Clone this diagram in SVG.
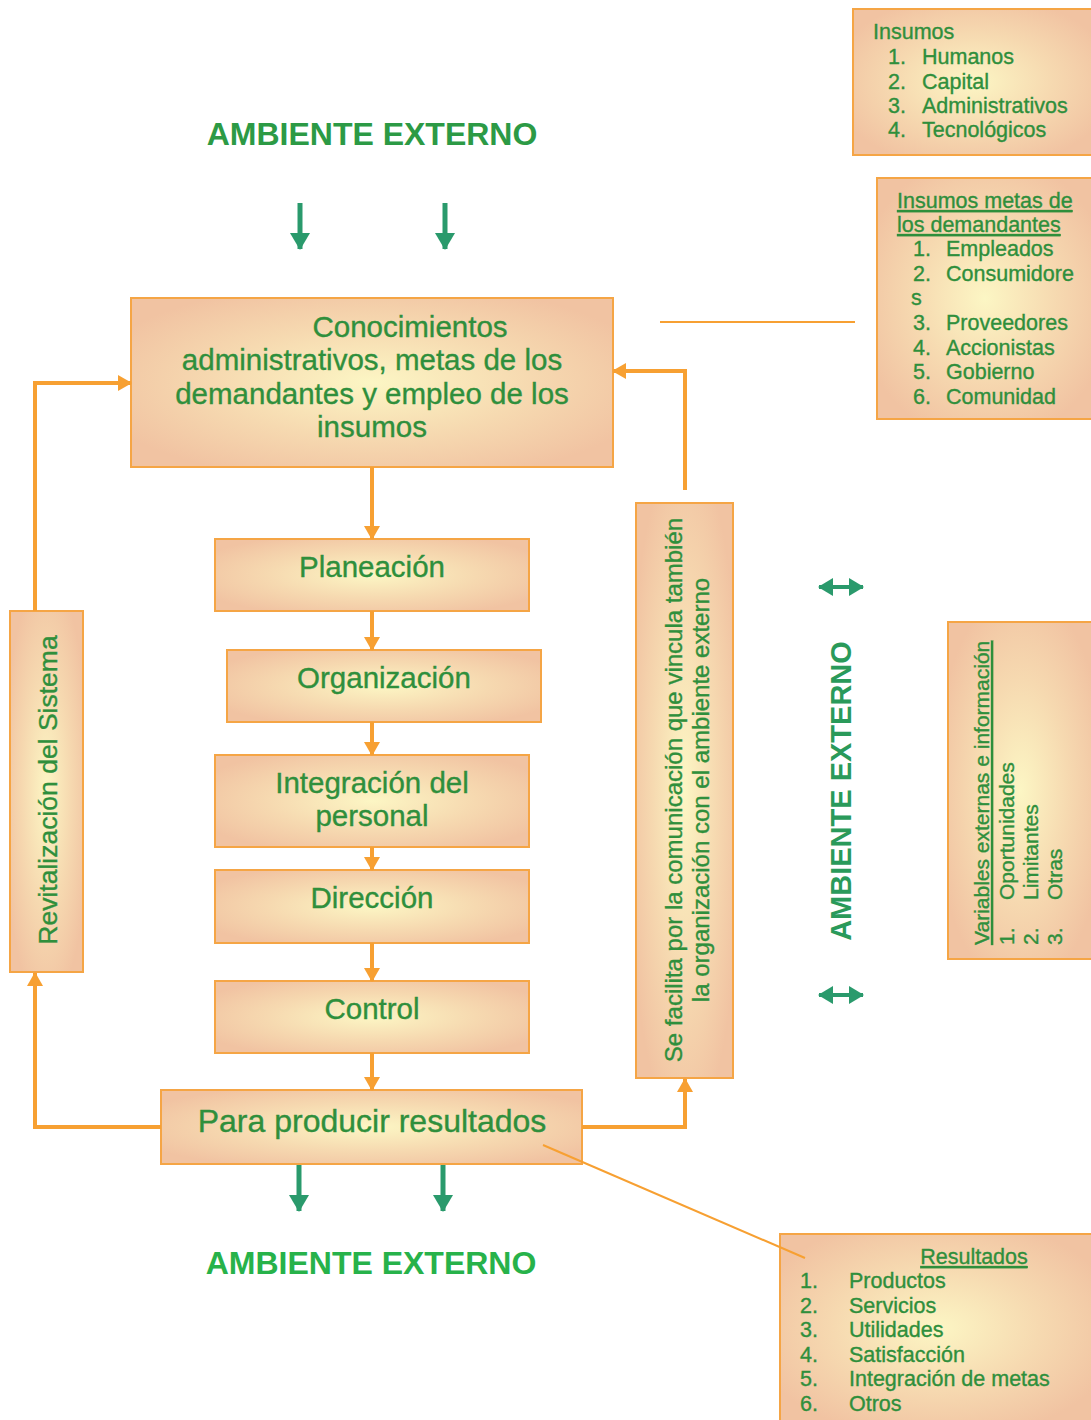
<svg xmlns="http://www.w3.org/2000/svg" width="1091" height="1420" viewBox="0 0 1091 1420">
<defs>
<radialGradient id="bg" cx="50%" cy="50%" r="60%">
<stop offset="0%" stop-color="#fcf6c4"/>
<stop offset="55%" stop-color="#f6d9b0"/>
<stop offset="100%" stop-color="#f1c3a2"/>
</radialGradient>
<marker id="oa" markerUnits="userSpaceOnUse" markerWidth="16" markerHeight="16" refX="13" refY="8" orient="auto">
<path d="M0,0 L14,8 L0,16 Z" fill="#f7a032"/>
</marker>
<marker id="ga" markerUnits="userSpaceOnUse" markerWidth="20" markerHeight="20" refX="16" refY="10" orient="auto">
<path d="M0,0 L17,10 L0,20 Z" fill="#2a9a6c"/>
</marker>
<marker id="gd" markerUnits="userSpaceOnUse" markerWidth="18" markerHeight="18" refX="14" refY="9" orient="auto-start-reverse">
<path d="M0,0 L15,9 L0,18 Z" fill="#2a9a6c"/>
</marker>
<style>
.box{fill:url(#bg);stroke:#f5a545;stroke-width:2}
.t{font-family:"Liberation Sans",Arial,sans-serif;fill:#2f8f3c;stroke:#2f8f3c;stroke-width:0.35}
.c{text-anchor:middle}
.big{font-size:29.5px}
.sm{font-size:21.5px}
.vr{font-size:21px}
.title{font-family:"Liberation Sans",Arial,sans-serif;font-weight:bold;font-size:32px;text-anchor:middle}
.oc{fill:none;stroke:#f7a032;stroke-width:4}
.thin{fill:none;stroke:#f7a032;stroke-width:2}
.gc{fill:none;stroke:#2a9a6c;stroke-width:5}
.gdl{fill:none;stroke:#2a9a6c;stroke-width:4}
</style>
</defs>
<rect width="1091" height="1420" fill="#ffffff"/>

<g id="title-top"><text class="title" x="372" y="145" fill="#2c9a45">AMBIENTE EXTERNO</text></g>
<g id="title-bottom"><text class="title" x="371" y="1274" fill="#27b24a">AMBIENTE EXTERNO</text></g>
<g id="title-right"><text class="title" transform="translate(851,791) rotate(-90)" x="0" y="0" fill="#2a9a5a" style="font-size:29px">AMBIENTE EXTERNO</text></g>

<g id="insumos">
<rect class="box" x="853" y="9" width="240" height="146"/>
<text class="t sm" x="873" y="39">Insumos</text>
<text class="t sm" x="888" y="64">1.</text><text class="t sm" x="922" y="64">Humanos</text>
<text class="t sm" x="888" y="89">2.</text><text class="t sm" x="922" y="89">Capital</text>
<text class="t sm" x="888" y="113">3.</text><text class="t sm" x="922" y="113">Administrativos</text>
<text class="t sm" x="888" y="137">4.</text><text class="t sm" x="922" y="137">Tecnológicos</text>
</g>

<g id="insumos-metas">
<rect class="box" x="877" y="178" width="216" height="241"/>
<text class="t sm" x="897" y="208" text-decoration="underline">Insumos metas de</text>
<text class="t sm" x="897" y="232" text-decoration="underline">los demandantes</text>
<text class="t sm" x="913" y="256">1.</text><text class="t sm" x="946" y="256">Empleados</text>
<text class="t sm" x="913" y="281">2.</text><text class="t sm" x="946" y="281">Consumidore</text>
<text class="t sm" x="911" y="305">s</text>
<text class="t sm" x="913" y="330">3.</text><text class="t sm" x="946" y="330">Proveedores</text>
<text class="t sm" x="913" y="355">4.</text><text class="t sm" x="946" y="355">Accionistas</text>
<text class="t sm" x="913" y="379">5.</text><text class="t sm" x="946" y="379">Gobierno</text>
<text class="t sm" x="913" y="404">6.</text><text class="t sm" x="946" y="404">Comunidad</text>
</g>

<g id="variables">
<rect class="box" x="948" y="622" width="145" height="337"/>
<text class="t vr" transform="translate(989,945) rotate(-90)" text-decoration="underline">Variables externas e información</text>
<text class="t vr" transform="translate(1014,945) rotate(-90)">1.</text>
<text class="t vr" transform="translate(1014,900) rotate(-90)">Oportunidades</text>
<text class="t vr" transform="translate(1038,945) rotate(-90)">2.</text>
<text class="t vr" transform="translate(1038,900) rotate(-90)">Limitantes</text>
<text class="t vr" transform="translate(1062,945) rotate(-90)">3.</text>
<text class="t vr" transform="translate(1062,900) rotate(-90)">Otras</text>
</g>

<g id="resultados">
<rect class="box" x="780" y="1234" width="313" height="188"/>
<text class="t sm c" x="974" y="1264" text-decoration="underline">Resultados</text>
<text class="t sm" x="800" y="1288">1.</text><text class="t sm" x="849" y="1288">Productos</text>
<text class="t sm" x="800" y="1313">2.</text><text class="t sm" x="849" y="1313">Servicios</text>
<text class="t sm" x="800" y="1337">3.</text><text class="t sm" x="849" y="1337">Utilidades</text>
<text class="t sm" x="800" y="1362">4.</text><text class="t sm" x="849" y="1362">Satisfacción</text>
<text class="t sm" x="800" y="1386">5.</text><text class="t sm" x="849" y="1386">Integración de metas</text>
<text class="t sm" x="800" y="1411">6.</text><text class="t sm" x="849" y="1411">Otros</text>
</g>

<g id="conocimientos">
<rect class="box" x="131" y="298" width="482" height="169"/>
<text class="t big c" x="410" y="337">Conocimientos</text>
<text class="t big c" x="372" y="370">administrativos, metas de los</text>
<text class="t big c" x="372" y="404">demandantes y empleo de los</text>
<text class="t big c" x="372" y="437">insumos</text>
</g>

<g id="planeacion">
<rect class="box" x="215" y="539" width="314" height="72"/>
<text class="t big c" x="372" y="577">Planeación</text>
</g>
<g id="organizacion">
<rect class="box" x="227" y="650" width="314" height="72"/>
<text class="t big c" x="384" y="688">Organización</text>
</g>
<g id="integracion">
<rect class="box" x="215" y="755" width="314" height="92"/>
<text class="t big c" x="372" y="793">Integración del</text>
<text class="t big c" x="372" y="826">personal</text>
</g>
<g id="direccion">
<rect class="box" x="215" y="870" width="314" height="73"/>
<text class="t big c" x="372" y="908">Dirección</text>
</g>
<g id="control">
<rect class="box" x="215" y="981" width="314" height="72"/>
<text class="t big c" x="372" y="1019">Control</text>
</g>
<g id="producir">
<rect class="box" x="161" y="1090" width="421" height="74"/>
<text class="t c" style="font-size:32px" x="372" y="1132">Para producir resultados</text>
</g>

<g id="revitalizacion">
<rect class="box" x="10" y="611" width="73" height="361"/>
<text class="t c" style="font-size:26.5px" transform="translate(57,790) rotate(-90)">Revitalización del Sistema</text>
</g>

<g id="comunicacion">
<rect class="box" x="636" y="503" width="97" height="575"/>
<text class="t c" style="font-size:24px" transform="translate(682,790) rotate(-90)">Se facilita por la comunicación que vincula también</text>
<text class="t c" style="font-size:24px" transform="translate(709,790) rotate(-90)">la organización con el ambiente externo</text>
</g>

<g id="connectors">
<line class="oc" x1="372" y1="467" x2="372" y2="539" marker-end="url(#oa)"/>
<line class="oc" x1="372" y1="611" x2="372" y2="650" marker-end="url(#oa)"/>
<line class="oc" x1="372" y1="722" x2="372" y2="755" marker-end="url(#oa)"/>
<line class="oc" x1="372" y1="847" x2="372" y2="870" marker-end="url(#oa)"/>
<line class="oc" x1="372" y1="943" x2="372" y2="981" marker-end="url(#oa)"/>
<line class="oc" x1="372" y1="1053" x2="372" y2="1090" marker-end="url(#oa)"/>
<polyline class="oc" points="161,1127 35,1127 35,973" marker-end="url(#oa)"/>
<polyline class="oc" points="35,611 35,383 131,383" marker-end="url(#oa)"/>
<polyline class="oc" points="582,1127 685,1127 685,1079" marker-end="url(#oa)"/>
<polyline class="oc" points="685,490 685,371 613,371" marker-end="url(#oa)"/>
<line class="thin" x1="660" y1="322" x2="855" y2="322"/>
<line class="thin" x1="543" y1="1145" x2="805" y2="1258"/>
<line class="gc" x1="300" y1="203" x2="300" y2="249" marker-end="url(#ga)"/>
<line class="gc" x1="445" y1="203" x2="445" y2="249" marker-end="url(#ga)"/>
<line class="gc" x1="299" y1="1165" x2="299" y2="1211" marker-end="url(#ga)"/>
<line class="gc" x1="443" y1="1165" x2="443" y2="1211" marker-end="url(#ga)"/>
<line class="gdl" x1="819" y1="587" x2="863" y2="587" marker-start="url(#gd)" marker-end="url(#gd)"/>
<line class="gdl" x1="819" y1="995" x2="863" y2="995" marker-start="url(#gd)" marker-end="url(#gd)"/>
</g>
</svg>
